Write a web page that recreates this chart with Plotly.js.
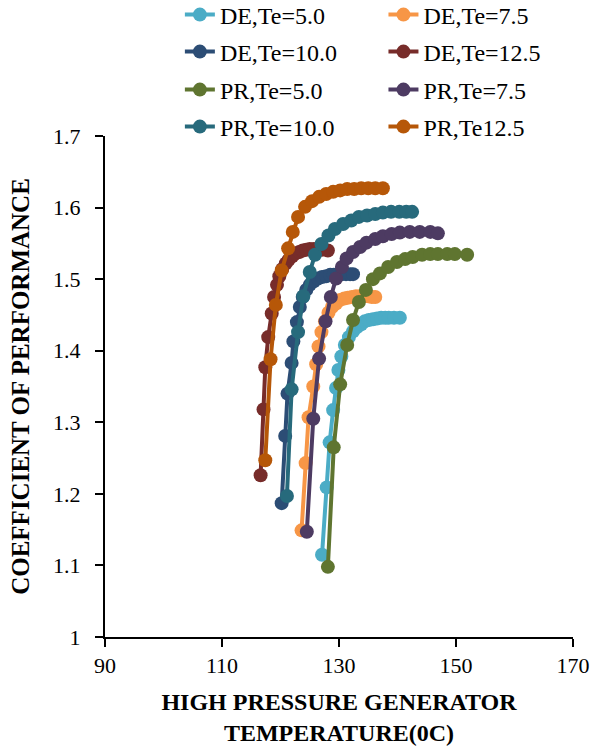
<!DOCTYPE html>
<html>
<head>
<meta charset="utf-8">
<script src="https://cdn.plot.ly/plotly-3.0.1.min.js"></script>
<style>html,body{margin:0;padding:0;background:#fff;} #chart{width:592px;height:746px;}</style>
</head>
<body>
<div id="chart"></div>
<script>
// Series names
const seriesNames = ["DE,Te=5.0", "DE,Te=7.5", "DE,Te=10.0", "DE,Te=12.5",
                     "PR,Te=5.0", "PR,Te=7.5", "PR,Te=10.0", "PR,Te12.5"];

// DE, Te = 5.0
const de5_x = [127.1,127.9,128.4,129.0,129.5,129.9,130.4,131.0,131.7,132.4,133.1,133.8,134.4,135.1,135.8,136.5,137.2,137.9,138.5,139.4,140.4];
const de5_y = [1.115,1.209,1.272,1.317,1.348,1.373,1.392,1.408,1.419,1.427,1.433,1.437,1.441,1.443,1.444,1.445,1.446,1.446,1.446,1.446,1.446];
// DE, Te = 7.5
const de75_x = [123.6,124.3,124.8,125.6,126.1,126.5,127.0,127.6,128.2,128.8,129.5,130.2,130.9,131.5,132.2,132.9,133.6,134.3,135.0,135.6,136.2];
const de75_y = [1.149,1.243,1.307,1.350,1.381,1.406,1.426,1.441,1.453,1.461,1.466,1.471,1.473,1.474,1.475,1.476,1.476,1.476,1.476,1.475,1.475];
// DE, Te = 10.0
const de10_x = [120.2,120.8,121.2,121.9,122.2,122.8,123.3,123.8,124.4,125.0,125.7,126.4,127.1,127.8,128.5,129.1,129.8,130.5,131.2,131.9,132.4];
const de10_y = [1.187,1.281,1.340,1.383,1.413,1.440,1.461,1.475,1.485,1.492,1.497,1.501,1.503,1.504,1.506,1.506,1.507,1.507,1.507,1.507,1.507];
// DE, Te = 12.5
const de125_x = [116.6,117.1,117.4,117.9,118.5,118.9,119.4,119.8,120.3,120.9,121.4,122.0,122.6,123.2,123.8,124.4,125.0,125.7,126.4,127.1,128.1];
const de125_y = [1.226,1.318,1.377,1.419,1.452,1.475,1.492,1.504,1.514,1.522,1.527,1.532,1.536,1.538,1.540,1.541,1.542,1.542,1.542,1.541,1.540];
// PR, Te = 5.0
const pr5_x = [128.1,129.1,130.2,131.4,132.4,133.4,134.6,135.8,137.0,138.4,139.9,141.3,142.6,144.2,145.6,146.9,148.5,149.8,151.9];
const pr5_y = [1.098,1.265,1.353,1.408,1.443,1.468,1.485,1.500,1.508,1.517,1.524,1.528,1.531,1.534,1.535,1.535,1.535,1.535,1.534];
// PR, Te = 7.5
const pr75_x = [124.5,125.6,126.6,127.7,128.6,129.5,130.5,131.3,132.4,133.6,134.7,136.2,137.5,139.0,140.4,142.1,143.8,145.6,146.9];
const pr75_y = [1.147,1.305,1.389,1.441,1.475,1.501,1.517,1.529,1.538,1.545,1.551,1.556,1.560,1.563,1.565,1.566,1.566,1.566,1.564];
// PR, Te = 10.0
const pr10_x = [121.1,121.9,123.0,123.9,125.0,125.9,127.0,128.2,129.3,130.7,132.1,133.4,134.8,136.2,137.5,138.9,140.3,141.5,142.5];
const pr10_y = [1.197,1.346,1.426,1.476,1.510,1.534,1.549,1.561,1.570,1.577,1.582,1.587,1.589,1.591,1.593,1.594,1.594,1.594,1.594];
// PR, Te = 12.5
const pr125_x = [117.4,118.3,119.2,120.2,121.3,122.1,123.0,124.2,125.4,126.6,127.8,129.0,130.2,131.4,132.6,133.8,135.0,136.2,137.5];
const pr125_y = [1.247,1.388,1.464,1.512,1.543,1.566,1.587,1.601,1.609,1.615,1.619,1.622,1.624,1.626,1.626,1.627,1.627,1.627,1.627];

const xTicks = [90, 110, 130, 150, 170];
const yTicks = [1, 1.1, 1.2, 1.3, 1.4, 1.5, 1.6, 1.7];

const colors = ["#4BACC6", "#F79646", "#2C4D75", "#772C2A", "#5F7530", "#4D3B62", "#276A7C", "#B65708"];
const xs = [de5_x, de75_x, de10_x, de125_x, pr5_x, pr75_x, pr10_x, pr125_x];
const ys = [de5_y, de75_y, de10_y, de125_y, pr5_y, pr75_y, pr10_y, pr125_y];

const FONT = "Liberation Serif, Times New Roman, serif";
const legIds = ["legend", "legend2", "legend3", "legend4", "legend5", "legend6", "legend7", "legend8"];

const traces = seriesNames.map((n, i) => ({
  type: "scatter", mode: "lines+markers", name: n,
  x: xs[i], y: ys[i],
  line: {color: colors[i], width: 4},
  marker: {color: colors[i], size: 14},
  legend: legIds[i]
}));

function leg(x, y) {
  return {orientation: "v", x: x, xanchor: "left", y: y, yanchor: "middle",
          itemwidth: 30, font: {family: FONT, size: 24, color: "#000"},
          bgcolor: "rgba(0,0,0,0)", borderwidth: 0};
}
const colX = [0.16, 0.595];
const rowY = [1.2415, 1.1677, 1.0918, 1.018];

const layout = {
  width: 592, height: 746,
  margin: {l: 105, r: 19, t: 136, b: 109, autoexpand: false},
  paper_bgcolor: "#fff", plot_bgcolor: "#fff",
  font: {family: FONT, color: "#000", size: 22},
  showlegend: true,
  xaxis: {
    range: [90, 170], tickvals: xTicks, ticktext: xTicks.map(String),
    showgrid: false, zeroline: false, showline: true, linecolor: "#000", linewidth: 2,
    ticks: "outside", ticklen: 8, tickwidth: 2, tickcolor: "#000",
    tickfont: {family: FONT, size: 22, color: "#000"},
    title: {text: "<b>HIGH PRESSURE GENERATOR<br>TEMPERATURE(0C)</b>", font: {family: FONT, size: 24, color: "#000"}, standoff: 18}
  },
  yaxis: {
    range: [1, 1.7], tickvals: yTicks, ticktext: yTicks.map(String),
    showgrid: false, zeroline: false, showline: true, linecolor: "#000", linewidth: 2,
    ticks: "outside", ticklen: 8, tickwidth: 2, tickcolor: "#000", ticklabelstandoff: 10,
    tickfont: {family: FONT, size: 22, color: "#000"},
    title: {text: "<b>COEFFICIENT OF PERFORMANCE</b>", font: {family: FONT, size: 25, color: "#000"}, standoff: 16}
  }
};
legIds.forEach((id, i) => {
  layout[id] = leg(colX[i % 2], rowY[Math.floor(i / 2)]);
});

Plotly.newPlot("chart", traces, layout, {displayModeBar: false, staticPlot: true});
</script>
</body>
</html>
